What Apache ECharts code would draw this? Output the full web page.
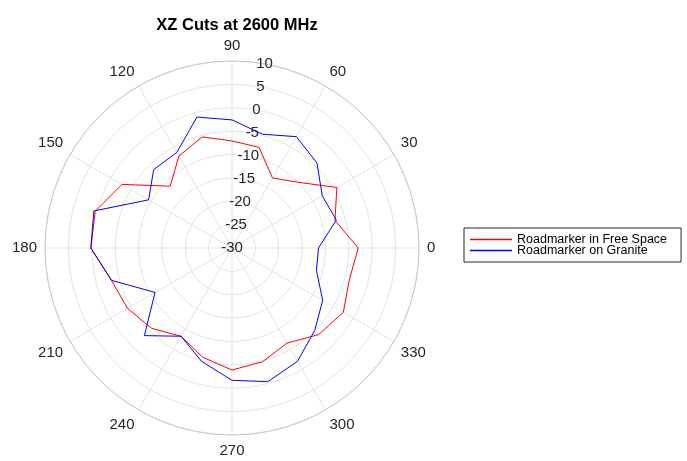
<!DOCTYPE html>
<html>
<head>
<meta charset="utf-8">
<script src="https://cdn.jsdelivr.net/npm/echarts@6/dist/echarts.min.js"></script>
<style>
  html, body { margin: 0; padding: 0; background: #fff; }
  #chart { width: 687px; height: 461px; }
</style>
</head>
<body>
<div id="chart"></div>
<script>
// angles in degrees, one sample every 15
const angles = [0, 15, 30, 45, 60, 75, 90, 105, 120, 135, 150, 165,
                180, 195, 210, 225, 240, 255, 270, 285, 300, 315, 330, 345]
// dB values
const freeSpace = [-3.0, -7.2, -4.1, -10.1, -12.7, -7.7, -7.1, -5.4, -7.3, -11.3, -2.8, 0.3,
                   0.2, -3.3, -4.2, -5.7, -8.2, -5.8, -3.9, -4.8, -6.5, -3.8, -2.5, -4.0]
const granite = [-11.5, -6.9, -7.7, -4.3, -2.5, -4.8, -2.6, -1.0, -6.4, -6.3, -9.4, 0.6,
                 0.2, -3.3, -11.0, -3.5, -8.2, -4.9, -1.7, -0.4, -2.0, -5.0, -7.6, -11.3]
const angleTicks = [0, 30, 60, 90, 120, 150, 180, 210, 240, 270, 300, 330]
const rTicks = [-30, -25, -20, -15, -10, -5, 0, 5, 10]

const font = 'Liberation Sans, Arial, sans-serif'

// closed loop: repeat first point at the end
function toPoints(vals) {
    let pts = []
    for (let i = 0; i < angles.length; i++) {
        pts.push([vals[i], angles[i]])
    }
    pts.push([vals[0], 360])
    return pts
}

let myChart = echarts.init(document.getElementById('chart'))

let option = {
    animation: false,
    title: {
        text: 'XZ Cuts at 2600 MHz',
        left: 232,
        top: 12,
        textAlign: 'center',
        textStyle: {fontFamily: font, fontSize: 16.5, fontWeight: 'bold', color: '#000'}
    },
    legend: {
        orient: 'vertical',
        left: 464,
        top: 228,
        padding: [5, 14, 5, 6],
        borderColor: '#262626',
        borderWidth: 1,
        icon: 'rect',
        itemWidth: 42,
        itemHeight: 1.4,
        itemGap: -2,
        textStyle: {fontFamily: font, fontSize: 12.5, color: '#000'},
        data: ['Roadmarker in Free Space', 'Roadmarker on Granite']
    },
    polar: [
        {center: [232, 248], radius: 187},
        {center: [232, 248], radius: 187}
    ],
    angleAxis: [
        {
            polarIndex: 0,
            type: 'value',
            min: 0,
            max: 360,
            interval: 30,
            startAngle: 0,
            clockwise: false,
            axisLine: {show: true, lineStyle: {color: '#c4c4c4', width: 1}},
            axisTick: {show: false},
            axisLabel: {
                margin: 8,
                fontFamily: font,
                fontSize: 15,
                color: '#262626',
                formatter: v => (angleTicks.indexOf(v) >= 0 ? String(v) : '')
            },
            splitLine: {show: true, lineStyle: {color: '#e3e3e3', width: 1}}
        },
        {
            polarIndex: 1,
            type: 'value',
            min: 0,
            max: 360,
            startAngle: 80,
            show: false
        }
    ],
    radiusAxis: [
        {
            polarIndex: 0,
            type: 'value',
            min: -30,
            max: 10,
            interval: 5,
            axisLine: {show: false},
            axisTick: {show: false},
            axisLabel: {show: false},
            splitLine: {show: true, lineStyle: {color: '#e3e3e3', width: 1}}
        },
        {
            polarIndex: 1,
            type: 'value',
            min: -30,
            max: 10,
            interval: 5,
            axisLine: {show: false},
            axisTick: {show: false},
            splitLine: {show: false},
            axisLabel: {
                margin: 0,
                align: 'center',
                verticalAlign: 'middle',
                fontFamily: font,
                fontSize: 15,
                color: '#262626',
                formatter: v => (rTicks.indexOf(v) >= 0 ? String(v) : '')
            }
        }
    ],
    series: [
        {
            name: 'Roadmarker in Free Space',
            type: 'line',
            coordinateSystem: 'polar',
            polarIndex: 0,
            symbol: 'none',
            lineStyle: {color: '#ff0000', width: 1},
            itemStyle: {color: '#ff0000'},
            data: toPoints(freeSpace)
        },
        {
            name: 'Roadmarker on Granite',
            type: 'line',
            coordinateSystem: 'polar',
            polarIndex: 0,
            symbol: 'none',
            lineStyle: {color: '#0000ff', width: 1},
            itemStyle: {color: '#0000ff'},
            data: toPoints(granite)
        }
    ]
}

myChart.setOption(option)
</script>
</body>
</html>
